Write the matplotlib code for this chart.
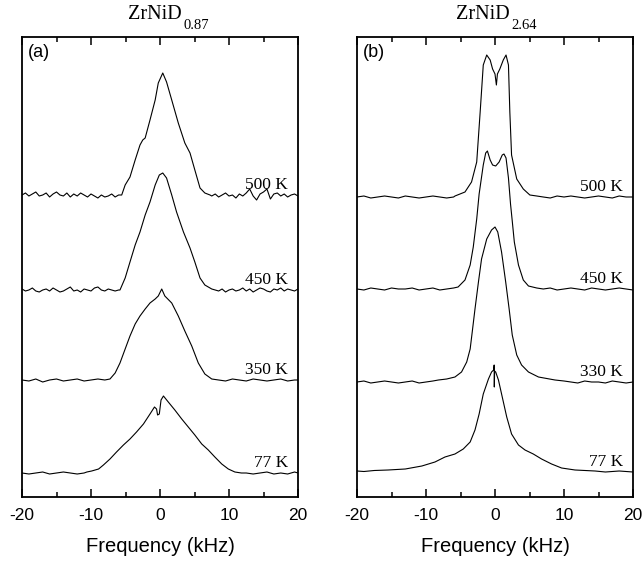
import numpy as np
import matplotlib
matplotlib.use('Agg')
import matplotlib.pyplot as plt

plt.rcParams['axes.unicode_minus'] = False

# ---- values: frequency (kHz) and signal height (arb. units) ----
labels_a = ['500 K', '450 K', '350 K', '77 K']
labels_b = ['500 K', '450 K', '330 K', '77 K']

# ZrNiD0.87
freq_a500 = [-20, -19.5, -19, -18.5, -18, -17.5, -17, -16.5, -16, -15.5, -15, -14.5, -14, -13.5, -13,
             -12.5, -12, -11.5, -11, -10.5, -10, -9.5, -9, -8.5, -8, -7.5, -7, -6.5, -6,
             -5.55, -5.05, -4.35, -3.6, -2.9, -2.5, -2.15, -1.45, -0.7, -0.25, 0.4, 0.95, 1.7, 2.65,
             3.6, 4.35, 5.05, 5.8, 6.5, 7.25,
             7.5, 8, 8.5, 9, 9.5, 10, 10.5, 11, 11.5, 12, 12.5, 13, 13.5, 14, 14.5, 15, 15.5, 16,
             16.5, 17, 17.5, 18, 18.5, 19, 19.5, 20]
sig_a500 = [0, 2, -1, 1, 3, -1, 0, 2, -2, 1, 3, 0, -1, 2, -2, 1, -1, 2, 0, -2, 1, -1, -3, 0, -2, -1, 1, -2, 0,
            0, 10, 18, 35, 50, 55, 57, 75, 95, 112, 122, 113, 95, 72, 52, 42, 25, 7, 2, 0,
            -1, 1, -2, 0, 2, -1, 0, -3, 1, -1, 2, 6, -1, -5, 1, 3, 6, -4, 1, 2, -1, 1, -2, 0, 1, -1]

freq_a450 = [-20, -19.5, -19, -18.5, -18, -17.5, -17, -16.5, -16, -15.5, -15, -14.5, -14, -13.5, -13,
             -12.5, -12, -11.5, -11, -10.5, -10, -9.5, -9, -8.5, -8, -7.5, -7, -6.5, -6,
             -5.8, -5.05, -4.35, -3.6, -2.9, -2.15, -1.45, -0.7, -0.1, 0.4, 0.95, 1.7, 2.4, 3.4,
             4.35, 5.05, 5.8, 6.5, 7.5,
             8, 8.5, 9, 9.5, 10, 10.5, 11, 11.5, 12, 12.5, 13, 13.5, 14, 14.5, 15, 15.5, 16,
             16.5, 17, 17.5, 18, 18.5, 19, 19.5, 20]
sig_a450 = [1, -1, 0, 2, -1, -2, 0, 1, -1, 2, 0, -2, -1, 1, 3, -1, 0, -2, 1, 0, -1, 2, 3, 0, -1, 1, 0, -1, 0,
            0, 12, 28, 45, 58, 75, 88, 105, 115, 117, 112, 95, 78, 58, 42, 28, 12, 5, 1,
            0, -1, 1, -2, 0, 1, -1, 0, 2, -1, 1, -2, 0, 2, 1, -1, -2, 1, 0, 2, -1, 1, 0, -1, 1]

freq_a350 = [-20, -19, -18, -17, -16, -15, -14, -13, -12, -11, -10, -9, -8,
             -7.25, -6.5, -5.8, -5.05, -4.35, -3.6, -2.9, -2.15, -1.45, -0.7, -0.25, 0.25, 0.7,
             1.7, 2.65, 3.6, 4.6, 5.55, 6.5, 7.5,
             8.5, 9.5, 10.5, 11.5, 12.5, 13.5, 14.5, 15.5, 16.5, 17.5, 18.5, 19.5, 20]
sig_a350 = [0, -1, 1, -2, 0, 1, -1, 0, 1, -1, 0, 1, 0,
            1, 7, 17, 31, 44, 56, 64, 71, 77, 81, 84, 91, 84, 77, 64, 49, 34, 17, 6, 1,
            0, -1, 1, 0, -1, 1, 0, -1, 0, 1, -1, 0, 0]

freq_a77 = [-20, -19, -18, -17, -16, -15, -14, -13, -12, -11,
            -10.6, -9.9, -8.9, -8.2, -7.25, -6.3, -5.3, -4.35, -3.4, -2.4, -1.45, -0.8, -0.5, -0.35,
            -0.1, 0.15, 0.5, 1.2, 2.15, 3.15, 4.1, 5.05, 6.05, 7.0, 7.95, 8.95, 9.9, 10.85, 11.8,
            12.5, 13.5, 14.5, 15.5, 16.5, 17.5, 18.5, 19.5, 20]
sig_a77 = [0, -1, 0, 1, -1, 0, 1, 0, -1, 0,
           1, 2, 4, 8, 14, 21, 28, 34, 41, 49, 59, 66, 64, 58, 59, 73, 77, 71, 63, 54, 46, 38, 29,
           23, 16, 9, 4, 1, 0,
           0, -1, 0, 1, -1, 0, -1, 1, 0]

# ZrNiD2.64
freq_b500 = [-20, -19, -18, -17, -16, -15, -14, -13, -12, -11, -10, -9, -8, -7, -6,
             -5.8, -4.35, -3.4, -2.65, -2.15, -1.7, -1.2, -0.7, -0.35, 0.0, 0.2, 0.35, 0.7, 1.2,
             1.6, 1.95, 2.15, 2.4, 3.15, 4.1, 5.05, 6.05,
             7, 8, 9, 10, 11, 12, 13, 14, 15, 16, 17, 18, 19, 20]
sig_b500 = [0, 1, -1, 0, 1, 0, -1, 1, 0, -1, 0, 1, 0, -1, 0,
            1, 5, 15, 35, 85, 132, 142, 137, 128, 123, 112, 123, 128, 137, 142, 132, 85, 42, 18,
            8, 2, 1,
            0, -1, 1, 0, 1, 0, -1, 0, 1, 0, -1, 1, 0, 0]

freq_b450 = [-20, -19, -18, -17, -16, -15, -14, -13, -12, -11, -10, -9, -8, -7, -6,
             -5.35, -4.35, -3.6, -3.15, -2.65, -2.3, -1.7, -1.35, -1.1, -0.7, -0.35, 0.1, 0.6,
             1.05, 1.3, 1.6, 1.95, 2.25, 2.5, 2.8, 3.4, 4.1, 4.85, 6.05,
             7, 8, 9, 10, 11, 12, 13, 14, 15, 16, 17, 18, 19, 20]
sig_b450 = [0, -1, 1, 0, -1, 1, 0, 0, 1, -1, 0, 1, -1, 0, 1,
            2, 9, 24, 42, 70, 95, 124, 136, 138, 129, 124, 123, 127, 134, 135, 131, 111, 85, 68,
            47, 24, 9, 3, 1,
            0, 1, -1, 0, 1, 0, -1, 1, 0, -1, 0, 1, 0, -1]

freq_b330 = [-20, -19, -18, -17, -16, -15, -14, -13, -12, -11, -10, -9,
             -8.2, -7, -5.8, -4.85, -4.1, -3.6, -3.3, -2.9, -2.4, -1.95, -1.2, -0.5, 0.0, 0.4,
             0.95, 1.55, 2.05, 2.5, 3.15, 3.85, 4.85, 6.3, 8.7,
             10, 11, 12, 13, 14, 15, 16, 17, 18, 19, 20]
sig_b330 = [0, 1, -1, 0, 1, 0, -1, 0, 1, -1, 0, 1,
            2, 3, 5, 10, 20, 33, 50, 73, 100, 123, 143, 152, 155, 150, 130, 100, 73, 47, 27,
            17, 10, 5, 2,
            1, 0, -1, 1, 0, 0, -1, 1, 0, -1, 0]

freq_b77 = [-20, -19, -17.5, -15.5, -13, -10.6, -8.7, -7.25, -5.8, -4.6, -3.6, -2.9, -2.3, -1.7,
            -0.95, -0.5, -0.2, -0.12, -0.1, -0.06, 0.1, 0.5, 1.05, 1.7, 2.4, 3.4, 4.35, 5.55,
            6.75, 8.2, 9.65, 11.6, 14.5, 16, 18, 20]
sig_b77 = [1, 0.5, 1.5, 2, 3, 6, 10, 15, 18, 23, 30, 42, 58, 78, 93, 100, 102, 107, 85, 101,
           100, 92, 75, 55, 38, 27, 22, 18, 13, 8, 4, 2, 1, 0, 1, 0]

curves_a = [(freq_a500, sig_a500), (freq_a450, sig_a450), (freq_a350, sig_a350), (freq_a77, sig_a77)]
curves_b = [(freq_b500, sig_b500), (freq_b450, sig_b450), (freq_b330, sig_b330), (freq_b77, sig_b77)]

# vertical offsets of the stacked spectra
offsets_a = [302, 207, 117, 24]
offsets_b = [300, 208, 115, 25]

SERIF = 'Liberation Serif'
SANS = 'Liberation Sans'


def dibujar_panel(ax, curvas, desplaz, etiquetas, letra):
    for (f, s), d, et in zip(curvas, desplaz, etiquetas):
        ax.plot(f, np.array(s) + d, color='black', linewidth=0.8)
        ax.text(18.6, d + 6, et, ha='right', va='baseline', fontsize=12.5, family=SERIF)

    ax.set_xlim(-20, 20)
    ax.set_ylim(0, 460)
    ax.set_yticks([])
    ax.set_xticks([-20, -10, 0, 10, 20])
    ax.set_xticks([-15, -5, 5, 15], minor=True)
    ax.tick_params(which='both', direction='in', top=True, bottom=True, width=1.1)
    ax.tick_params(which='major', length=5.5, pad=8, labelsize=12.5)
    ax.tick_params(which='minor', length=3.5)
    for lab in ax.get_xticklabels():
        lab.set_family(SANS)
    for sp in ax.spines.values():
        sp.set_linewidth(1.3)
    ax.set_xlabel('Frequency (kHz)', fontsize=14.5, family=SANS, labelpad=10)
    ax.text(0.02, 0.985, letra, transform=ax.transAxes, ha='left', va='top',
            fontsize=13, family=SANS)


fig = plt.figure(figsize=(6.43, 5.63), dpi=100)
ax_a = fig.add_axes([22 / 643, 66 / 563, 276 / 643, 460 / 563])
ax_b = fig.add_axes([357 / 643, 66 / 563, 276 / 643, 460 / 563])

dibujar_panel(ax_a, curves_a, offsets_a, labels_a, '(a)')
dibujar_panel(ax_b, curves_b, offsets_b, labels_b, '(b)')

# titulos con subindice bajado a mano
for x_div, sub in [(182, '0.87'), (510, '2.64')]:
    fig.text(x_div / 643, 1 - 19 / 563, 'ZrNiD', ha='right', va='baseline',
             fontsize=14.5, family=SERIF)
    fig.text((x_div + 1) / 643, 1 - 29 / 563, sub, ha='left', va='baseline',
             fontsize=10.5, family=SERIF)

fig.savefig('out.png', dpi=100)
